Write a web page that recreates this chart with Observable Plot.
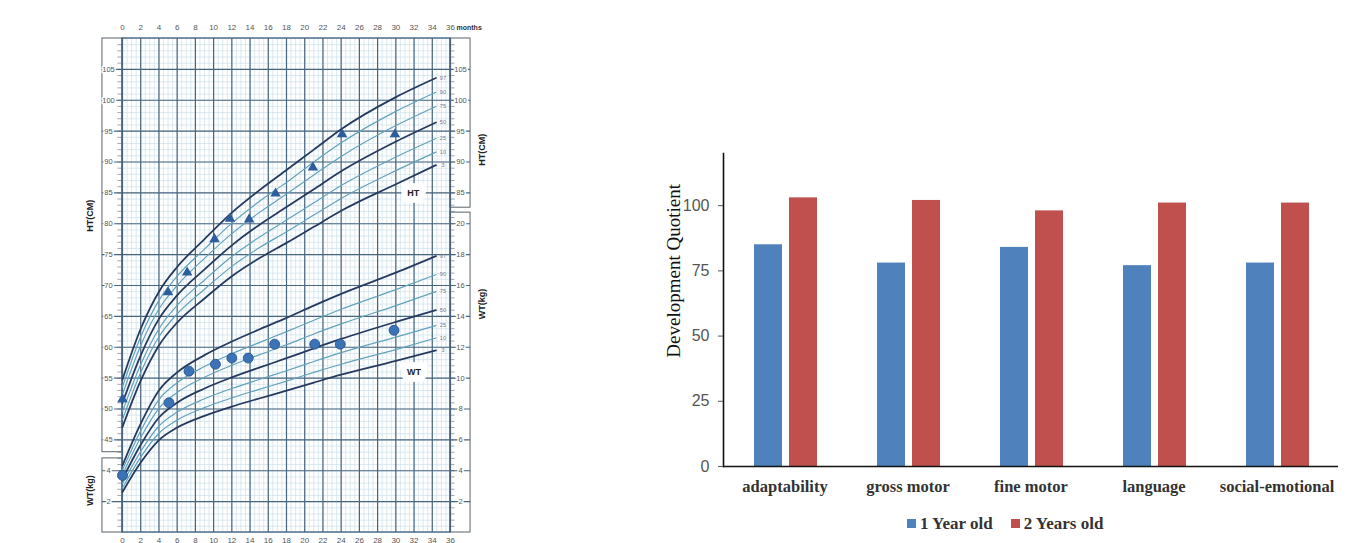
<!DOCTYPE html>
<html>
<head>
<meta charset="utf-8">
<script src="https://cdn.jsdelivr.net/npm/d3@7"></script>
<script src="https://cdn.jsdelivr.net/npm/@observablehq/plot@0.6"></script>
<style>
  body { margin: 0; background: #fff; width: 1348px; height: 543px; position: relative; overflow: hidden; font-family: "Liberation Sans", Arial, sans-serif; }
  #a { position: absolute; left: 0; top: 0; }
  #b { position: absolute; left: 620px; top: 0; }
  .tag { position: absolute; font: bold 17px "Liberation Sans", Arial, sans-serif; color: #111; }
  #legend { position: absolute; left: 907px; top: 514px; font: bold 17px "Liberation Serif", "Times New Roman", serif; color: #333; white-space: nowrap; }
  #legend .sw { display: inline-block; width: 9px; height: 9px; margin-right: 4px; vertical-align: 1px; }
  #legend .item { margin-right: 18px; }
</style>
</head>
<body>
<div class="tag" style="left:7px;top:6px">(a)</div>
<div class="tag" style="left:622px;top:6px">(b)</div>
<div id="a"></div>
<div id="b"></div>
<div id="legend"></div>
<script>
// ---------------- Panel (a): growth chart data ----------------
const months = [0, 2, 4, 6, 9, 12, 15, 18, 21, 24, 30, 34.4];
const pctNames = ["3", "10", "25", "50", "75", "90", "97"];
const darkPcts = ["3", "50", "97"];

// height (cm) percentile curves
const htP3  = [47.1, 54.6, 60.3, 64.0, 67.9, 71.5, 74.4, 76.9, 79.5, 82.1, 86.4, 89.5];
const htP10 = [48.3, 55.9, 61.7, 65.4, 69.4, 73.1, 76.1, 78.7, 81.4, 84.1, 88.6, 91.6];
const htP25 = [49.6, 57.2, 63.0, 66.8, 70.9, 74.7, 77.8, 80.6, 83.4, 86.2, 90.8, 93.8];
const htP50 = [51.0, 58.7, 64.6, 68.4, 72.6, 76.5, 79.8, 82.7, 85.6, 88.5, 93.3, 96.4];
const htP75 = [52.4, 60.3, 66.2, 70.0, 74.4, 78.4, 81.8, 84.8, 87.9, 90.9, 95.9, 99.0];
const htP90 = [53.6, 61.7, 67.6, 71.5, 75.9, 80.1, 83.6, 86.7, 90.0, 93.1, 98.2, 101.3];
const htP97 = [54.8, 63.0, 69.0, 73.0, 77.5, 81.8, 85.4, 88.7, 92.0, 95.3, 100.5, 103.6];

// weight (kg) percentile curves
const wtP3  = [2.62, 4.53, 5.99, 6.80, 7.56, 8.16, 8.68, 9.19, 9.71, 10.22, 11.11, 11.8];
const wtP10 = [2.88, 4.88, 6.43, 7.28, 8.09, 8.72, 9.27, 9.81, 10.37, 10.90, 11.85, 12.6];
const wtP25 = [3.16, 5.25, 6.90, 7.80, 8.66, 9.33, 9.91, 10.48, 11.08, 11.65, 12.66, 13.4];
const wtP50 = [3.45, 5.68, 7.45, 8.41, 9.33, 10.05, 10.68, 11.29, 11.93, 12.54, 13.64, 14.4];
const wtP75 = [3.75, 6.15, 8.04, 9.07, 10.06, 10.83, 11.51, 12.16, 12.86, 13.51, 14.70, 15.6];
const wtP90 = [4.05, 6.59, 8.61, 9.70, 10.75, 11.58, 12.30, 13.01, 13.75, 14.46, 15.73, 16.7];
const wtP97 = [4.35, 7.05, 9.20, 10.37, 11.49, 12.37, 13.15, 13.90, 14.70, 15.46, 16.83, 17.9];

// child's measurements
const htObsMonth = [0, 5.0, 7.1, 10.1, 11.8, 13.9, 16.8, 20.9, 24.1, 29.9];
const htObs      = [51.6, 68.9, 72.1, 77.5, 80.8, 80.7, 84.9, 89.1, 94.5, 94.5];
const wtObsMonth = [0, 5.1, 7.3, 10.2, 12.0, 13.8, 16.7, 21.1, 23.9, 29.8];
const wtObs      = [3.7, 8.4, 10.45, 10.9, 11.3, 11.3, 12.2, 12.2, 12.2, 13.1];

// tick labels
const monthTicks = d3.range(0, 37, 2);
const htLeftTicks = d3.range(45, 106, 5);
const wtLeftTicks = [2, 4];
const htRightTicks = [85, 90, 95, 100, 105];
const wtRightTicks = [2, 4, 6, 8, 10, 12, 14, 16, 18, 20];

// weight (kg) shares the height grid: 2 kg per 5 cm, 0 kg at 30 cm
const wtY = w => 2.5 * w + 30;

const htSeries = [htP3, htP10, htP25, htP50, htP75, htP90, htP97];
const wtSeries = [wtP3, wtP10, wtP25, wtP50, wtP75, wtP90, wtP97];
const curveRows = [];
pctNames.forEach((p, i) => months.forEach((m, j) => {
  curveRows.push({pct: p, month: m, ht: htSeries[i][j], wt: wtSeries[i][j], dark: darkPcts.includes(p)});
}));
const endRows = curveRows.filter(d => d.month === months[months.length - 1]);
const htObsRows = htObsMonth.map((m, i) => ({month: m, value: htObs[i]}));
const wtObsRows = wtObsMonth.map((m, i) => ({month: m, value: wtObs[i]}));

const gridMinor = "#cde0ea", gridMajor = "#46657f";
const leftEdge = -2.2, rightEdge = 38.2;
const boxes = [
  {x1: leftEdge, x2: 0, y1: 43, y2: 110},
  {x1: leftEdge, x2: 0, y1: 30, y2: 42},
  {x1: 36, x2: rightEdge, y1: 82.6, y2: 110},
  {x1: 36, x2: rightEdge, y1: 30, y2: 81.8}
];
const axisTitles = [
  {label: "HT(CM)", side: "left", at: 81.3},
  {label: "WT(kg)", side: "left", at: 36.8},
  {label: "HT(CM)", side: "right", at: 92},
  {label: "WT(kg)", side: "right", at: 67}
];
const chartTags = [
  {label: "HT", month: 31.9, at: 84.9},
  {label: "WT", month: 32.0, at: wtY(10.36)}
];

const A = Plot.plot({
  width: 620, height: 543,
  marginLeft: 122, marginRight: 170, marginTop: 38, marginBottom: 11,
  x: {domain: [0, 36], axis: null},
  y: {domain: [30, 110], axis: null},
  style: {fontFamily: "'Liberation Sans', Arial, sans-serif", background: "white", overflow: "visible"},
  marks: [
    Plot.ruleX(d3.range(0, 36.01, 0.5), {stroke: gridMinor, strokeWidth: 0.7}),
    Plot.ruleY(d3.range(30, 110.01, 1), {stroke: gridMinor, strokeWidth: 0.7}),
    Plot.ruleY(d3.range(31, 110, 1), {x1: -0.5, x2: 0, stroke: "#667", strokeWidth: 0.6}),
    Plot.ruleY(d3.range(31, 110, 1), {x1: 36, x2: 36.5, stroke: "#667", strokeWidth: 0.6}),
    Plot.ruleX(monthTicks, {stroke: gridMajor, strokeWidth: 1.2}),
    Plot.ruleY(d3.range(35, 106, 5), {x1: leftEdge, x2: rightEdge, stroke: gridMajor, strokeWidth: 1.2}),
    Plot.rect(boxes, {x1: "x1", x2: "x2", y1: "y1", y2: "y2", fill: "none", stroke: "#59636d", strokeWidth: 1}),
    Plot.rect([{x1: 0, x2: 36, y1: 30, y2: 110}], {x1: "x1", x2: "x2", y1: "y1", y2: "y2", fill: "none", stroke: gridMajor, strokeWidth: 1.4}),
    // percentile curves
    Plot.line(curveRows.filter(d => !d.dark), {x: "month", y: "ht", z: "pct", stroke: "#62a2bc", strokeWidth: 1.2, curve: "monotone-x"}),
    Plot.line(curveRows.filter(d => !d.dark), {x: "month", y: d => wtY(d.wt), z: "pct", stroke: "#62a2bc", strokeWidth: 1.2, curve: "monotone-x"}),
    Plot.line(curveRows.filter(d => d.dark), {x: "month", y: "ht", z: "pct", stroke: "#263a60", strokeWidth: 1.8, curve: "monotone-x"}),
    Plot.line(curveRows.filter(d => d.dark), {x: "month", y: d => wtY(d.wt), z: "pct", stroke: "#263a60", strokeWidth: 1.8, curve: "monotone-x"}),
    Plot.text(endRows, {x: "month", y: "ht", text: "pct", dx: 7, fontSize: 5.5, fill: "#777"}),
    Plot.text(endRows, {x: "month", y: d => wtY(d.wt), text: "pct", dx: 7, fontSize: 5.5, fill: "#777"}),
    // measurements
    Plot.dot(htObsRows, {x: "month", y: "value", symbol: "triangle", r: 3.9, fill: "#2d5d9d"}),
    Plot.dot(wtObsRows, {x: "month", y: d => wtY(d.value), r: 5, fill: "#3b73b6", stroke: "#22508a", strokeWidth: 0.8}),
    // chart tags
    Plot.text(chartTags, {x: "month", y: "at", text: "label", fontWeight: "bold", fontSize: 9, fill: "#222", stroke: "white", strokeWidth: 13, strokeLinejoin: "miter"}),
    // tick labels
    Plot.text(monthTicks, {x: d => d, frameAnchor: "top", dy: -11, text: d => String(d), fontSize: 8, fill: "#555", lineAnchor: "middle"}),
    Plot.text(monthTicks, {x: d => d, frameAnchor: "bottom", dy: 8, text: d => String(d), fontSize: 8, fill: "#555", lineAnchor: "middle"}),
    Plot.text(["months"], {frameAnchor: "top-right", dx: 6, dy: -11, text: d => d, textAnchor: "start", lineAnchor: "middle", fontWeight: "bold", fontSize: 7, fill: "#333"}),
    Plot.text(htLeftTicks, {y: d => d, frameAnchor: "left", dx: -14, textAnchor: "middle", text: d => String(d), fontSize: 7.5, fill: "#555", stroke: "white", strokeWidth: 3}),
    Plot.text(wtLeftTicks, {y: wtY, frameAnchor: "left", dx: -14, textAnchor: "middle", text: d => String(d), fontSize: 7.5, fill: "#555", stroke: "white", strokeWidth: 3}),
    Plot.text(htRightTicks, {y: d => d, frameAnchor: "right", dx: 10, textAnchor: "middle", text: d => String(d), fontSize: 7.5, fill: "#555", stroke: "white", strokeWidth: 3}),
    Plot.text(wtRightTicks, {y: wtY, frameAnchor: "right", dx: 10, textAnchor: "middle", text: d => String(d), fontSize: 7.5, fill: "#555", stroke: "white", strokeWidth: 3}),
    Plot.text(axisTitles.filter(d => d.side === "left"), {y: "at", text: "label", frameAnchor: "left", dx: -32, textAnchor: "middle", rotate: -90, fontWeight: "bold", fontSize: 9, fill: "#222"}),
    Plot.text(axisTitles.filter(d => d.side === "right"), {y: "at", text: "label", frameAnchor: "right", dx: 32, textAnchor: "middle", rotate: -90, fontWeight: "bold", fontSize: 9, fill: "#222"})
  ]
});
document.getElementById("a").appendChild(A);

// ---------------- Panel (b): development quotient ----------------
const categories = ["adaptability", "gross motor", "fine motor", "language", "social-emotional"];
const oneYear = [85, 78, 84, 77, 78];
const twoYears = [103, 102, 98, 101, 101];
const seriesNames = ["1 Year old", "2 Years old"];
const seriesColors = ["#4f81bd", "#c0504d"];
const dqTicks = [0, 25, 50, 75, 100];

const rows1 = categories.map((c, i) => ({category: c, value: oneYear[i]}));
const rows2 = categories.map((c, i) => ({category: c, value: twoYears[i]}));

const B = Plot.plot({
  width: 728, height: 543,
  marginLeft: 103, marginRight: 10, marginTop: 153, marginBottom: 77,
  x: {domain: categories, padding: 0, axis: null},
  y: {domain: [0, 120], axis: null},
  style: {fontFamily: "'Liberation Serif', 'Times New Roman', serif", background: "white", overflow: "visible"},
  marks: [
    Plot.barY(rows1, {x: "category", y: "value", fill: seriesColors[0], insetLeft: 31, insetRight: 64}),
    Plot.barY(rows2, {x: "category", y: "value", fill: seriesColors[1], insetLeft: 66, insetRight: 29}),
    Plot.ruleY([0], {stroke: "#111", strokeWidth: 1.6}),
    Plot.frame({anchor: "left", stroke: "#111", strokeWidth: 1.6}),
    Plot.axisY({ticks: dqTicks, tickSize: 5, tickPadding: 9, fontSize: 16, fontFamily: "'Liberation Sans', Arial, sans-serif", color: "#555", label: null}),
    Plot.axisX({anchor: "bottom", tickSize: 0, tickPadding: 14, fontSize: 16.5, fontWeight: "bold", color: "#333", label: null}),
    Plot.text(["Development Quotient"], {frameAnchor: "left", y: () => 75, dx: -50, textAnchor: "middle", rotate: -90, text: d => d, fontSize: 19, fill: "#111"})
  ]
});
document.getElementById("b").appendChild(B);

const legend = document.getElementById("legend");
seriesNames.forEach((name, i) => {
  const s = document.createElement("span");
  s.className = "item";
  s.innerHTML = `<span class="sw" style="background:${seriesColors[i]}"></span>${name}`;
  legend.appendChild(s);
});
</script>
</body>
</html>
